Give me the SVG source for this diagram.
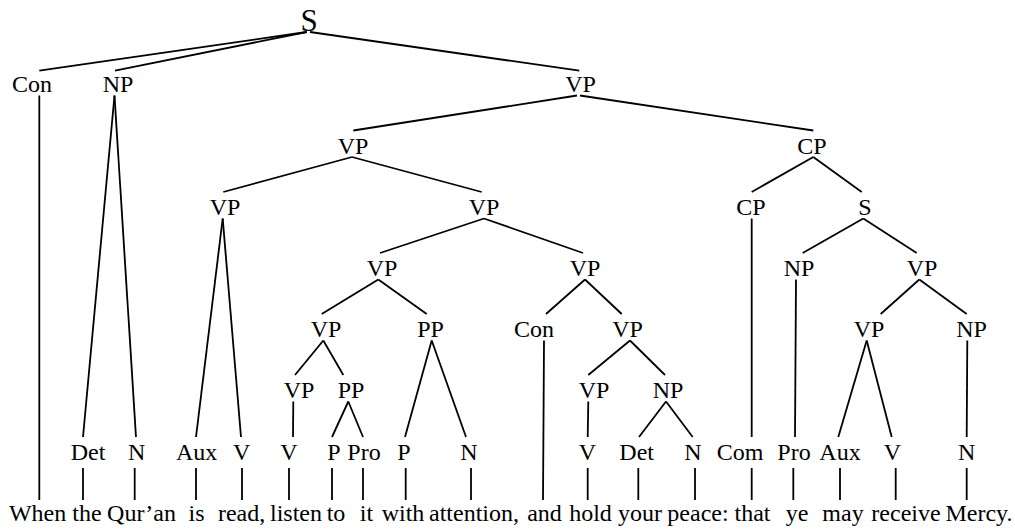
<svg xmlns="http://www.w3.org/2000/svg" width="1015" height="530" viewBox="0 0 1015 530">
<style>
text{font-family:'Liberation Serif','Times New Roman',Times,serif;font-size:24px;fill:#000;text-anchor:middle}
.big{font-size:31px}
#edges line{stroke:#000;stroke-width:1.8;stroke-linecap:butt}
</style>
<rect width="1015" height="530" fill="#fff"/>
<g id="edges">
<line x1="306.7" y1="32" x2="39.3" y2="70.7"/>
<line x1="306.7" y1="32" x2="115" y2="70.7"/>
<line x1="310" y1="32" x2="579.3" y2="70.7"/>
<line x1="39.3" y1="95.5" x2="39.3" y2="500"/>
<line x1="114.5" y1="95.5" x2="83" y2="437"/>
<line x1="114.5" y1="95.5" x2="136" y2="437"/>
<line x1="577" y1="95.5" x2="353.3" y2="130.5"/>
<line x1="580" y1="95.5" x2="813.3" y2="130.5"/>
<line x1="352" y1="157" x2="223.3" y2="192"/>
<line x1="352" y1="157" x2="481.7" y2="192"/>
<line x1="813.3" y1="157" x2="751.7" y2="192"/>
<line x1="813.3" y1="157" x2="861.7" y2="192"/>
<line x1="222.7" y1="218.5" x2="196" y2="437"/>
<line x1="222.7" y1="218.5" x2="241" y2="437"/>
<line x1="484" y1="218.5" x2="380" y2="253"/>
<line x1="484" y1="218.5" x2="583" y2="253"/>
<line x1="751.7" y1="218.5" x2="751.7" y2="437"/>
<line x1="863.3" y1="218.5" x2="802.7" y2="253"/>
<line x1="863.3" y1="218.5" x2="916.7" y2="253"/>
<line x1="378.3" y1="279.5" x2="321.7" y2="314"/>
<line x1="378.3" y1="279.5" x2="426.7" y2="314"/>
<line x1="585" y1="279.5" x2="546" y2="314"/>
<line x1="585" y1="279.5" x2="621.7" y2="314"/>
<line x1="796" y1="279.5" x2="795" y2="437"/>
<line x1="919.3" y1="279.5" x2="880.7" y2="314"/>
<line x1="919.3" y1="279.5" x2="966.7" y2="314"/>
<line x1="323.3" y1="340.5" x2="295" y2="375"/>
<line x1="323.3" y1="340.5" x2="343.3" y2="375"/>
<line x1="431.7" y1="340.5" x2="405" y2="437"/>
<line x1="431.7" y1="340.5" x2="466" y2="437"/>
<line x1="544" y1="340.5" x2="543" y2="500"/>
<line x1="630" y1="340.5" x2="588.3" y2="375"/>
<line x1="630" y1="340.5" x2="665" y2="375"/>
<line x1="866.7" y1="340.5" x2="838.3" y2="437"/>
<line x1="866.7" y1="340.5" x2="891.7" y2="437"/>
<line x1="967.3" y1="340.5" x2="966.7" y2="437"/>
<line x1="293.3" y1="401.5" x2="293" y2="437"/>
<line x1="348.3" y1="401.5" x2="332" y2="437"/>
<line x1="348.3" y1="401.5" x2="363" y2="437"/>
<line x1="588.3" y1="401.5" x2="587.7" y2="437"/>
<line x1="666" y1="401.5" x2="639" y2="437"/>
<line x1="666" y1="401.5" x2="692.7" y2="437"/>
<line x1="83" y1="468" x2="83" y2="500"/>
<line x1="134.7" y1="468" x2="134.7" y2="500"/>
<line x1="196" y1="468" x2="196" y2="500"/>
<line x1="242" y1="468" x2="242" y2="500"/>
<line x1="289" y1="468" x2="289" y2="500"/>
<line x1="332" y1="468" x2="332" y2="500"/>
<line x1="363" y1="468" x2="363" y2="500"/>
<line x1="405.7" y1="468" x2="405.7" y2="500"/>
<line x1="471" y1="468" x2="471" y2="500"/>
<line x1="587.7" y1="468" x2="587.7" y2="500"/>
<line x1="638.3" y1="468" x2="638.3" y2="500"/>
<line x1="695" y1="468" x2="695" y2="500"/>
<line x1="751.7" y1="468" x2="751.7" y2="500"/>
<line x1="793.3" y1="468" x2="793.3" y2="500"/>
<line x1="840" y1="468" x2="840" y2="500"/>
<line x1="895.7" y1="468" x2="895.7" y2="500"/>
<line x1="966.7" y1="468" x2="966.7" y2="500"/>
</g>
<g id="n-S"><text class="big" x="309" y="30.5">S</text></g>
<g id="n-Con1"><text x="32" y="92">Con</text></g>
<g id="n-NP1"><text x="118" y="92">NP</text></g>
<g id="n-VP1"><text x="580.5" y="92">VP</text></g>
<g id="n-VP2"><text x="353" y="153.5">VP</text></g>
<g id="n-CP2"><text x="812" y="153.5">CP</text></g>
<g id="n-VP3a"><text x="225" y="215">VP</text></g>
<g id="n-VP3b"><text x="484" y="215">VP</text></g>
<g id="n-CP3"><text x="751" y="215">CP</text></g>
<g id="n-S3"><text x="865" y="215">S</text></g>
<g id="n-VP4c"><text x="382" y="276">VP</text></g>
<g id="n-VP4d"><text x="585" y="276">VP</text></g>
<g id="n-NP4"><text x="799" y="276">NP</text></g>
<g id="n-VP4e"><text x="922" y="276">VP</text></g>
<g id="n-VP5f"><text x="326" y="337">VP</text></g>
<g id="n-PP5i"><text x="430.5" y="337">PP</text></g>
<g id="n-Con5"><text x="534" y="337">Con</text></g>
<g id="n-VP5k"><text x="627.5" y="337">VP</text></g>
<g id="n-VP5l"><text x="869" y="337">VP</text></g>
<g id="n-NP5m"><text x="971.5" y="337">NP</text></g>
<g id="n-VP6g"><text x="299" y="398">VP</text></g>
<g id="n-PP6h"><text x="351" y="398">PP</text></g>
<g id="n-VP6n"><text x="594" y="398">VP</text></g>
<g id="n-NP6o"><text x="668" y="398">NP</text></g>
<g id="n-Det1"><text x="88" y="460">Det</text></g>
<g id="n-N1"><text x="136.7" y="460">N</text></g>
<g id="n-Aux1"><text x="196.7" y="460">Aux</text></g>
<g id="n-V1"><text x="241.7" y="460">V</text></g>
<g id="n-V2"><text x="289" y="460">V</text></g>
<g id="n-P1"><text x="334" y="460">P</text></g>
<g id="n-Pro1"><text x="364" y="460">Pro</text></g>
<g id="n-P2"><text x="404" y="460">P</text></g>
<g id="n-N2"><text x="469" y="460">N</text></g>
<g id="n-V3"><text x="587.5" y="460">V</text></g>
<g id="n-Det2"><text x="636.7" y="460">Det</text></g>
<g id="n-N3"><text x="693" y="460">N</text></g>
<g id="n-Com"><text x="740" y="460">Com</text></g>
<g id="n-Pro2"><text x="794" y="460">Pro</text></g>
<g id="n-Aux2"><text x="840" y="460">Aux</text></g>
<g id="n-V4"><text x="892.5" y="460">V</text></g>
<g id="n-N4"><text x="966.7" y="460">N</text></g>
<g id="words">
<text x="37.6" y="521">When</text>
<text x="87" y="521">the</text>
<text x="141.5" y="521">Qur’an</text>
<text x="196.5" y="521">is</text>
<text x="241.6" y="521">read,</text>
<text x="296" y="521">listen</text>
<text x="336" y="521">to</text>
<text x="366.5" y="521">it</text>
<text x="403" y="521">with</text>
<text x="474" y="521">attention,</text>
<text x="544.5" y="521">and</text>
<text x="590.5" y="521">hold</text>
<text x="640" y="521">your</text>
<text x="698" y="521">peace:</text>
<text x="752.5" y="521">that</text>
<text x="797" y="521">ye</text>
<text x="843" y="521">may</text>
<text x="906" y="521">receive</text>
<text x="979" y="521">Mercy.</text>
</g>
</svg>
